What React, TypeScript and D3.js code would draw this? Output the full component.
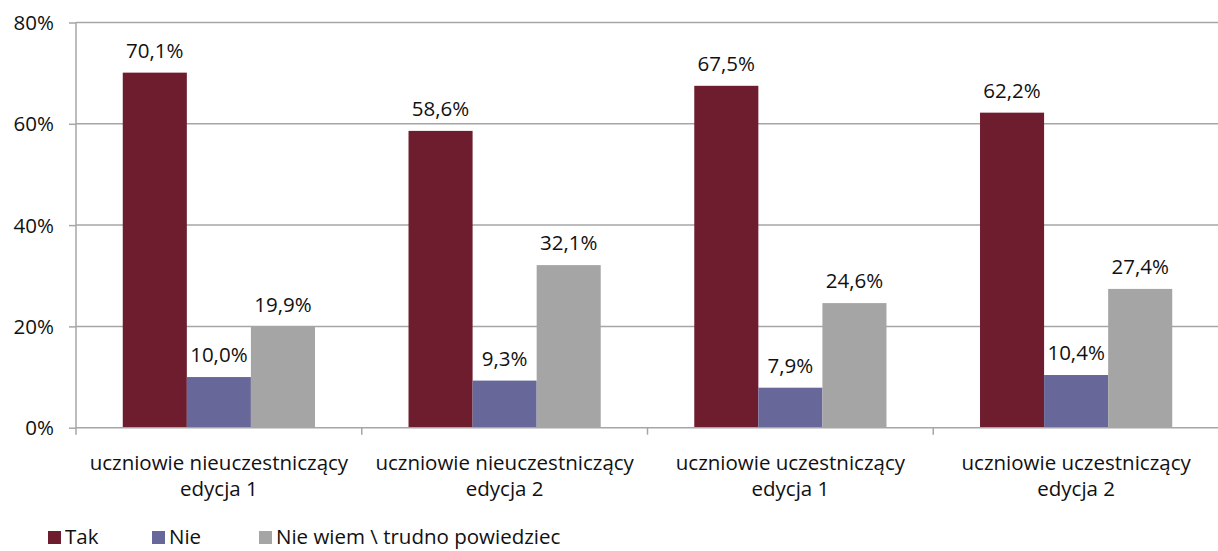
import React, { useEffect, useRef } from 'react';
import * as d3 from 'd3';

const categories = [
  ['uczniowie nieuczestniczący', 'edycja 1'],
  ['uczniowie nieuczestniczący', 'edycja 2'],
  ['uczniowie uczestniczący', 'edycja 1'],
  ['uczniowie uczestniczący', 'edycja 2'],
];
const seriesNames = ['Tak', 'Nie', 'Nie wiem \\ trudno powiedziec'];
const seriesColors = ['#6E1D2E', '#676799', '#A5A5A5'];
const tak = [70.1, 58.6, 67.5, 62.2];
const nie = [10.0, 9.3, 7.9, 10.4];
const nieWiem = [19.9, 32.1, 24.6, 27.4];
const yTicks = [0, 20, 40, 60, 80];

const FONT = '"Open Sans", "DejaVu Sans", sans-serif';

export default function App() {
  const svgRef = useRef<SVGSVGElement>(null);

  useEffect(() => {
    if (!svgRef.current) return;
    const svg = d3.select(svgRef.current);
    svg.selectAll('*').remove();

    const width = 1218;
    const height = 551;
    const margin = { top: 22.5, right: 0, bottom: 123, left: 76 };
    const series = [tak, nie, nieWiem];
    const keys = categories.map((c, i) => `${c[0]}|${i}`);

    const x = d3.scaleBand<string>()
      .domain(keys)
      .range([margin.left, width - margin.right + 1])
      .paddingInner(0)
      .paddingOuter(0);

    const xInner = d3.scaleBand<number>()
      .domain([0, 1, 2])
      .range([0, x.bandwidth()])
      .paddingOuter(0.73)
      .paddingInner(0);

    const y = d3.scaleLinear()
      .domain([0, 80])
      .range([height - margin.bottom - 0.3, margin.top]);

    // gridlines
    svg.append('g')
      .selectAll('line')
      .data(yTicks.filter(t => t > 0))
      .enter()
      .append('line')
      .attr('x1', margin.left)
      .attr('x2', width)
      .attr('y1', d => y(d))
      .attr('y2', d => y(d))
      .attr('stroke', '#A6A6A6')
      .attr('stroke-width', 1.5);

    // bars
    const groups = svg.append('g')
      .selectAll('g')
      .data(keys)
      .enter()
      .append('g')
      .attr('transform', d => `translate(${x(d)},0)`);

    series.forEach((vals, si) => {
      groups.append('rect')
        .attr('x', xInner(si)!)
        .attr('width', xInner.bandwidth())
        .attr('y', (_, i) => y(vals[i]))
        .attr('height', (_, i) => y(0) - y(vals[i]))
        .attr('fill', seriesColors[si]);

      groups.append('text')
        .attr('x', xInner(si)! + xInner.bandwidth() / 2)
        .attr('y', (_, i) => y(vals[i]) - 15)
        .attr('text-anchor', 'middle')
        .attr('font-family', FONT)
        .attr('font-size', '20.5px')
        .attr('fill', '#111')
        .text((_, i) => d3.format('.1f')(vals[i]).replace('.', ',') + '%');
    });

    // y axis
    const yAxis = svg.append('g')
      .attr('transform', `translate(${margin.left},0)`)
      .call(d3.axisLeft(y).tickValues(yTicks).tickSize(7).tickFormat(d => `${d}%`));
    yAxis.selectAll('line,path').attr('stroke', '#A6A6A6').attr('stroke-width', 1.5);
    yAxis.select('.domain').attr('d', `M0,${y(0)}V${y(80)}`);
    yAxis.selectAll('text')
      .attr('font-family', FONT)
      .attr('font-size', '20.5px')
      .attr('fill', '#111')
      .attr('x', -22)
      .attr('dy', '0.35em');

    // x axis
    const xAxis = svg.append('g');
    xAxis.append('line')
      .attr('x1', margin.left)
      .attr('x2', width)
      .attr('y1', y(0))
      .attr('y2', y(0))
      .attr('stroke', '#A6A6A6')
      .attr('stroke-width', 1.5);
    const boundaries = keys.map(k => x(k)!).concat([x.range()[1]]);
    xAxis.selectAll('.xtick')
      .data(boundaries)
      .enter()
      .append('line')
      .attr('x1', d => d)
      .attr('x2', d => d)
      .attr('y1', y(0))
      .attr('y2', y(0) + 7)
      .attr('stroke', '#A6A6A6')
      .attr('stroke-width', 1.5);

    const labels = xAxis.selectAll('.xlabel')
      .data(categories)
      .enter()
      .append('text')
      .attr('text-anchor', 'middle')
      .attr('font-family', FONT)
      .attr('font-size', '20.5px')
      .attr('fill', '#111');
    labels.each(function (d, i) {
      const t = d3.select(this);
      const cx = x(keys[i])! + x.bandwidth() / 2;
      d.forEach((line, li) => {
        t.append('tspan')
          .attr('x', cx)
          .attr('y', 470 + li * 26)
          .text(line);
      });
    });

    // legend
    const legendX = [48, 152, 259];
    const legend = svg.append('g')
      .selectAll('g')
      .data(seriesNames)
      .enter()
      .append('g')
      .attr('transform', (_, i) => `translate(${legendX[i]},531)`);
    legend.append('rect')
      .attr('width', 13)
      .attr('height', 13)
      .attr('fill', (_, i) => seriesColors[i]);
    legend.append('text')
      .attr('x', 17)
      .attr('y', 13)
      .attr('font-family', FONT)
      .attr('font-size', '20.5px')
      .attr('fill', '#111')
      .text(d => d);
  }, []);

  return (
    <svg
      ref={svgRef}
      width={1218}
      height={551}
      style={{ position: 'absolute', left: 0, top: 0, background: '#fff' }}
    />
  );
}
